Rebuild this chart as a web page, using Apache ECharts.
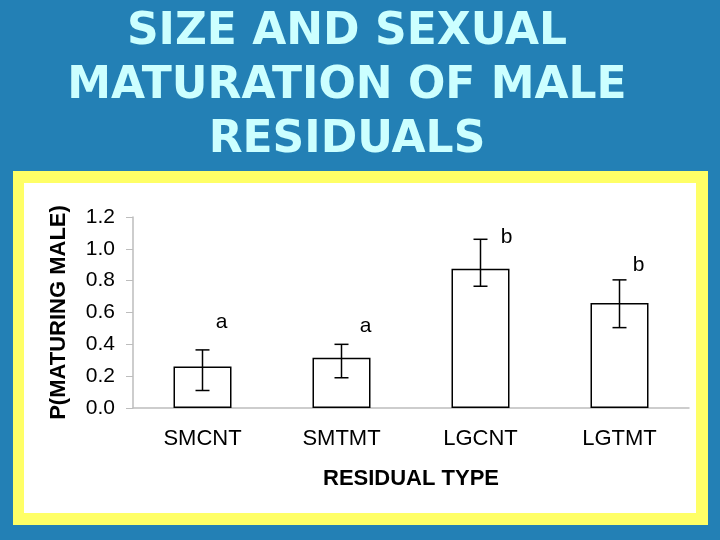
<!DOCTYPE html>
<html>
<head>
<meta charset="utf-8">
<script src="https://cdn.jsdelivr.net/npm/echarts@6/dist/echarts.min.js"></script>
<style>
  html, body { margin: 0; padding: 0; background: #2380b5; }
  #chart { width: 720px; height: 540px; }
</style>
</head>
<body>
<div id="chart"></div>
<script>
// residual types on the x axis
const categories = ['SMCNT', 'SMTMT', 'LGCNT', 'LGTMT']
// P(maturing male) per residual type
const values = [0.26, 0.315, 0.875, 0.66]
// error bar ends
const errLow = [0.11, 0.19, 0.765, 0.505]
const errHigh = [0.365, 0.40, 1.06, 0.805]
// significance letters and the height they sit at
const letters = ['a', 'a', 'b', 'b']
const letterY = [0.54, 0.515, 1.07, 0.90]

const titleLines = ['SIZE AND SEXUAL', 'MATURATION OF MALE', 'RESIDUALS']

const letterOffsetX = [19, 24, 26, 19]

const chart = echarts.init(document.getElementById('chart'))

const option = {
  backgroundColor: '#2380b5',
  animation: false,
  graphic: [
    {
      type: 'rect',
      shape: { x: 13, y: 171, width: 695, height: 354 },
      style: { fill: '#ffff66' },
      z: -10
    },
    {
      type: 'rect',
      shape: { x: 24, y: 183, width: 672, height: 330 },
      style: { fill: '#ffffff' },
      z: -9
    },
    {
      type: 'text',
      x: 347,
      y: 87,
      style: {
        text: titleLines.join('\n'),
        fontFamily: 'DejaVu Sans',
        fontWeight: 'bold',
        fontSize: 44,
        lineHeight: 54,
        fill: '#ccffff',
        textAlign: 'center',
        textVerticalAlign: 'middle',
        textShadowColor: '#0b2a48',
        textShadowOffsetX: 2.5,
        textShadowOffsetY: 2.5,
        textShadowBlur: 0
      }
    }
  ],
  grid: { left: 133, right: 31, top: 217, bottom: 132 },
  xAxis: {
    type: 'category',
    data: categories,
    name: 'RESIDUAL TYPE',
    nameLocation: 'middle',
    nameGap: 60,
    nameTextStyle: {
      fontFamily: 'Liberation Sans',
      fontWeight: 'bold',
      fontSize: 22,
      color: '#000'
    },
    axisLine: { lineStyle: { color: '#bdbdbd', width: 1.5 } },
    axisTick: { length: 6, lineStyle: { color: '#bdbdbd' } },
    axisLabel: {
      fontFamily: 'Liberation Sans',
      fontSize: 22,
      color: '#000',
      margin: 20
    }
  },
  yAxis: {
    type: 'value',
    min: 0,
    max: 1.2,
    interval: 0.2,
    name: 'P(MATURING MALE)',
    nameLocation: 'middle',
    nameRotate: 90,
    nameGap: 63,
    nameTextStyle: {
      fontFamily: 'Liberation Sans',
      fontWeight: 'bold',
      fontSize: 22,
      color: '#000'
    },
    splitLine: { show: false },
    axisLine: { show: true, lineStyle: { color: '#bdbdbd', width: 1.5 } },
    axisTick: { show: true, length: 7, lineStyle: { color: '#bdbdbd' } },
    axisLabel: {
      fontFamily: 'Liberation Sans',
      fontSize: 21,
      color: '#000',
      margin: 18,
      formatter: v => v.toFixed(1)
    }
  },
  series: [
    {
      type: 'bar',
      data: values,
      barWidth: 58,
      itemStyle: { color: '#ffffff', borderColor: '#000', borderWidth: 1.5 }
    },
    {
      type: 'custom',
      data: categories.map((c, i) => [i, errLow[i], errHigh[i]]),
      z: 5,
      renderItem: (params, api) => {
        const top = api.coord([api.value(0), api.value(2)])
        const bottom = api.coord([api.value(0), api.value(1)])
        const half = 7
        const style = { stroke: '#000', lineWidth: 1.5 }
        return {
          type: 'group',
          children: [
            { type: 'line', shape: { x1: top[0], y1: top[1], x2: bottom[0], y2: bottom[1] }, style },
            { type: 'line', shape: { x1: top[0] - half, y1: top[1], x2: top[0] + half, y2: top[1] }, style },
            { type: 'line', shape: { x1: bottom[0] - half, y1: bottom[1], x2: bottom[0] + half, y2: bottom[1] }, style }
          ]
        }
      }
    },
    {
      type: 'scatter',
      symbolSize: 0,
      itemStyle: { opacity: 1 },
      data: categories.map((c, i) => ({
        value: [i, letterY[i]],
        label: { offset: [letterOffsetX[i], 0] }
      })),
      label: {
        show: true,
        position: 'inside',
        formatter: p => letters[p.dataIndex],
        fontFamily: 'Liberation Sans',
        fontSize: 21,
        color: '#000',
        textBorderWidth: 0
      }
    }
  ]
}

chart.setOption(option)
</script>
</body>
</html>
